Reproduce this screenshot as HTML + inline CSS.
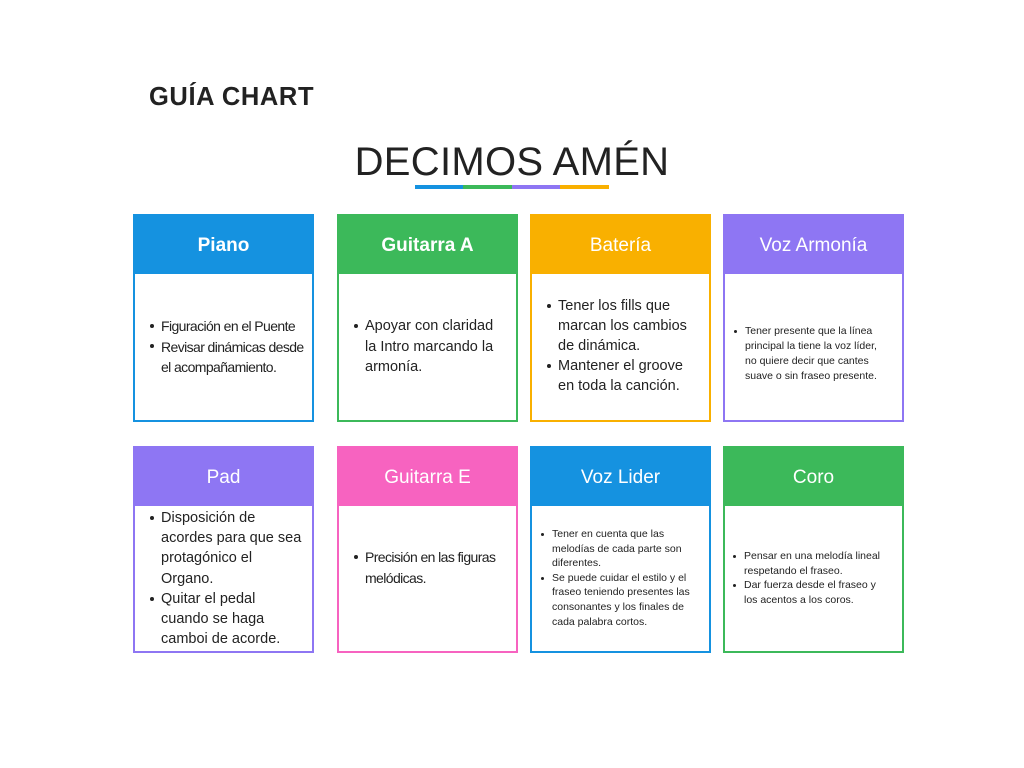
<!DOCTYPE html>
<html><head><meta charset="utf-8"><style>
body{margin:0;width:1024px;height:768px;background:#fff;position:relative;font-family:"Liberation Sans",sans-serif;overflow:hidden}
.a{position:absolute}
.card{position:absolute;width:181px;box-sizing:border-box;border:2px solid;background:#fff}
.hd{position:absolute;left:-2px;top:-2px;width:181px;height:60px;color:#fff;text-align:center;line-height:63px;font-size:19px}
.tx{position:absolute;color:#222}
.b{position:relative;padding-left:12px}
.b:before{content:"";position:absolute;left:1px;width:4px;height:4px;border-radius:50%;background:#222;top:0.55em}
.sm .b{padding-left:11px}
.sm .b:before{width:3px;height:3px;left:0}
</style></head><body>
<div class="a" style="left:149px;top:83px;font-size:25.5px;font-weight:bold;color:#222;letter-spacing:0.6px">GUÍA CHART</div>
<div class="a" style="left:0;width:1024px;top:140px;text-align:center;font-size:40px;color:#222;letter-spacing:0.3px">DECIMOS AMÉN</div>
<div class="a" style="left:415px;top:185px;width:48px;height:4px;background:#1592e0"></div>
<div class="a" style="left:463px;top:185px;width:49px;height:4px;background:#3cb95a"></div>
<div class="a" style="left:512px;top:185px;width:48px;height:4px;background:#8e76f3"></div>
<div class="a" style="left:560px;top:185px;width:49px;height:4px;background:#f9b000"></div>

<div class="card" style="left:133px;top:214px;height:208px;border-color:#1592e0"><div class="hd" style="background:#1592e0;font-weight:bold">Piano</div></div>
<div class="card" style="left:337px;top:214px;height:208px;border-color:#3cb95a"><div class="hd" style="background:#3cb95a;font-weight:bold">Guitarra A</div></div>
<div class="card" style="left:530px;top:214px;height:208px;border-color:#f9b000"><div class="hd" style="background:#f9b000">Batería</div></div>
<div class="card" style="left:723px;top:214px;height:208px;border-color:#8e76f3"><div class="hd" style="background:#8e76f3">Voz Armonía</div></div>

<div class="card" style="left:133px;top:446px;height:207px;border-color:#8e76f3"><div class="hd" style="background:#8e76f3">Pad</div></div>
<div class="card" style="left:337px;top:446px;height:207px;border-color:#f763c0"><div class="hd" style="background:#f763c0">Guitarra E</div></div>
<div class="card" style="left:530px;top:446px;height:207px;border-color:#1592e0"><div class="hd" style="background:#1592e0">Voz Lider</div></div>
<div class="card" style="left:723px;top:446px;height:207px;border-color:#3cb95a"><div class="hd" style="background:#3cb95a">Coro</div></div>

<div class="tx" style="left:149px;top:316px;font-size:14px;line-height:20.5px;letter-spacing:-0.6px">
<div class="b">Figuración en el Puente</div><div class="b">Revisar dinámicas desde<br>el acompañamiento.</div></div>
<div class="tx" style="left:353px;top:316px;font-size:14.5px;line-height:20.5px">
<div class="b">Apoyar con claridad<br>la Intro marcando la<br>armonía.</div></div>
<div class="tx" style="left:546px;top:296px;font-size:14.5px;line-height:20px">
<div class="b">Tener los fills que<br>marcan los cambios<br>de dinámica.</div><div class="b">Mantener el groove<br>en toda la canción.</div></div>
<div class="tx sm" style="left:734px;top:324px;font-size:10.5px;line-height:15px">
<div class="b">Tener presente que la línea<br>principal la tiene la voz líder,<br>no quiere decir que cantes<br>suave o sin fraseo presente.</div></div>

<div class="tx" style="left:149px;top:508px;font-size:14.5px;line-height:20.2px">
<div class="b">Disposición de<br>acordes para que sea<br>protagónico el<br>Organo.</div><div class="b">Quitar el pedal<br>cuando se haga<br>camboi de acorde.</div></div>
<div class="tx" style="left:353px;top:547px;font-size:14px;line-height:20.5px;letter-spacing:-0.6px">
<div class="b">Precisión en las figuras<br>melódicas.</div></div>
<div class="tx sm" style="left:541px;top:527px;font-size:10.5px;line-height:14.6px">
<div class="b">Tener en cuenta que las<br>melodías de cada parte son<br>diferentes.</div><div class="b">Se puede cuidar el estilo y el<br>fraseo teniendo presentes las<br>consonantes y los finales de<br>cada palabra cortos.</div></div>
<div class="tx sm" style="left:733px;top:549px;font-size:10.5px;line-height:14.6px">
<div class="b">Pensar en una melodía lineal<br>respetando el fraseo.</div><div class="b">Dar fuerza desde el fraseo y<br>los acentos a los coros.</div></div>
</body></html>
